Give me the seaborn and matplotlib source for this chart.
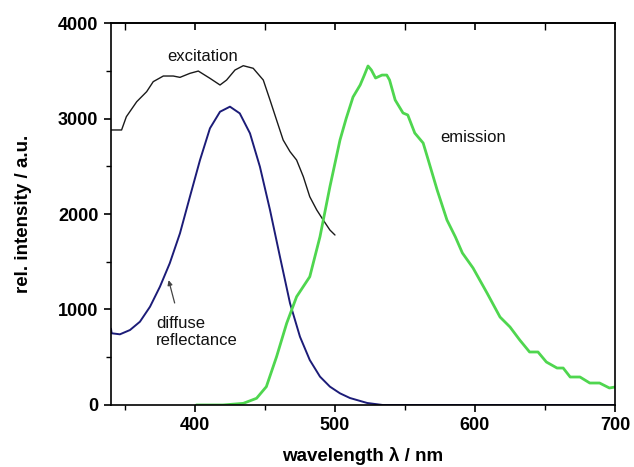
import numpy as np
import pandas as pd
import matplotlib
matplotlib.use("Agg")
import matplotlib.pyplot as plt
import seaborn as sns

# ---- data ----
exc_x = [339.3, 347.6, 351, 358.4, 365.5, 370.2, 377.4, 384.5, 389.3, 396.4, 402.4, 410.7,
         417.9, 422.6, 428.6, 434.5, 441.6, 448.8, 453.6, 458.3, 463, 467.9, 472.6, 477.4,
         482, 487, 491.6, 496.4, 500]
exc_y = [2880, 2880, 3019, 3176, 3281, 3386, 3445, 3445, 3431, 3473, 3497, 3421,
         3351, 3403, 3508, 3553, 3526, 3403, 3194, 2984, 2775, 2653, 2565, 2391,
         2181, 2042, 1937, 1832, 1780]

ref_x = [340, 340.5, 346.4, 353.6, 360.7, 367.9, 375, 382, 389.3, 396.4, 403.6, 410.7, 417.9,
         425, 432, 439.3, 446.4, 453.6, 460.7, 467.9, 475, 482, 489.3, 496.4, 503.6, 510.7,
         523, 534, 560, 600, 650, 700]
ref_y = [800, 751, 740, 785, 872, 1029, 1239, 1484, 1798, 2181, 2565, 2897, 3071,
         3124, 3054, 2845, 2495, 2042, 1553, 1065, 715, 471, 297, 192, 122, 73,
         21, 0, 0, 0, 0, 0]

em_x = [401, 420, 434.5, 444, 451, 458.3, 465.5, 472.6, 482, 489.3, 496.4, 503.6, 508, 512.9,
        518, 521, 523.6, 526, 529, 533.6, 537, 539, 543, 548.6, 552, 557, 563, 566, 573,
        580, 586, 591, 598.6, 608.6, 617.9, 625, 632, 639, 645, 651, 658.6, 663, 668, 675,
        682, 689, 696, 700]
em_y = [0, 0, 17, 70, 192, 506, 855, 1134, 1343, 1762, 2286, 2775, 3000, 3225,
        3351, 3455, 3550, 3508, 3424, 3455, 3455, 3403, 3194, 3058, 3037, 2848, 2743, 2597, 2251,
        1937, 1760, 1592, 1435, 1173, 921, 817, 680, 555, 555, 450, 387, 387, 293, 293,
        230, 230, 178, 188]

x_ticks = [400, 500, 600, 700]
y_ticks = [0, 1000, 2000, 3000, 4000]

# ---- plotting ----
sns.set_style("ticks")
plt.rcParams['font.family'] = ['Liberation Sans', 'DejaVu Sans']
plt.rcParams.update({'text.color': 'black', 'axes.labelcolor': 'black',
                     'xtick.color': 'black', 'ytick.color': 'black'})

fig = plt.figure(figsize=(6.34, 4.67), dpi=100)
ax = fig.add_axes([0.175, 0.1328, 0.795, 0.8179])

sns.lineplot(x=exc_x, y=exc_y, ax=ax, color="#1a1a1a", linewidth=1.0, sort=False)
sns.lineplot(x=ref_x, y=ref_y, ax=ax, color="#1c1c78", linewidth=1.4, sort=False)
sns.lineplot(x=em_x, y=em_y, ax=ax, color="#4fd64f", linewidth=2.0, sort=False)

ax.set_xlim(340, 700)
ax.set_ylim(0, 4000)
ax.set_xticks(x_ticks)
ax.set_yticks(y_ticks)
ax.set_xticks([350, 450, 550, 650], minor=True)
ax.set_yticks([500, 1500, 2500, 3500], minor=True)
ax.tick_params(axis='both', which='major', labelsize=13, width=1.2, length=5,
               direction='out', top=False, right=False, pad=4, colors='black')
ax.tick_params(axis='both', which='minor', width=1.0, length=3.5, direction='out',
               top=False, right=False, colors='black')
for lab in ax.get_xticklabels() + ax.get_yticklabels():
    lab.set_fontweight('bold')
for s in ax.spines.values():
    s.set_linewidth(1.2)
    s.set_color('black')

# mirrored inward ticks on the top edge
sec = ax.secondary_xaxis('top')
sec.set_xticks(x_ticks)
sec.set_xticks([350, 450, 550, 650], minor=True)
sec.tick_params(axis='x', which='major', direction='in', length=5, width=1.2,
                labeltop=False, colors='black')
sec.tick_params(axis='x', which='minor', direction='in', length=5, width=1.0, colors='black')
sec.spines['top'].set_linewidth(1.2)
sec.spines['top'].set_color('black')

ax.set_xlabel("wavelength λ / nm", fontsize=13.5, fontweight='bold', labelpad=9,
              color='black')
ax.set_ylabel("rel. intensity / a.u.", fontsize=13.5, fontweight='bold', labelpad=19,
              color='black')

ax.text(405.7, 3654, "excitation", fontsize=12, ha='center', va='center', color='#111111')
ax.text(598.6, 2796, "emission", fontsize=12, ha='center', va='center', color='#111111')
ax.text(372, 764, "diffuse\nreflectance", fontsize=12, ha='left', va='center',
        linespacing=1.15, color='#111111')
ax.annotate("", xy=(380.7, 1335), xytext=(386, 1040),
            arrowprops=dict(arrowstyle='-|>', color='#444444', lw=0.9,
                            mutation_scale=7))

fig.savefig("out.png", dpi=100)
